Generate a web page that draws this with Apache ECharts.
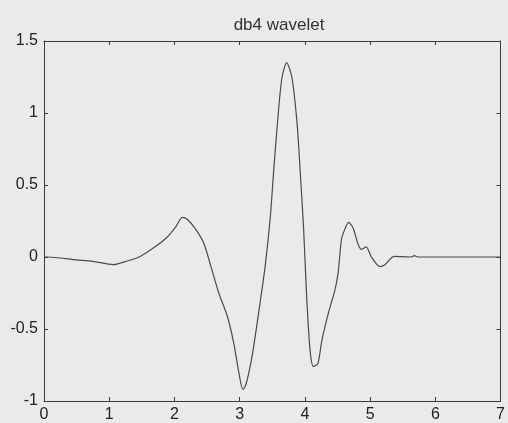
<!DOCTYPE html>
<html>
<head>
<meta charset="utf-8">
<title>db4 wavelet</title>
<script src="https://cdn.jsdelivr.net/npm/echarts@6/dist/echarts.min.js"></script>
<style>
  html, body { margin: 0; padding: 0; background: #eaeae8; }
  #chart { width: 508px; height: 423px; }
</style>
</head>
<body>
<div id="chart"></div>
<script>
// samples (t, psi(t))
var tValues = [0, 0.05, 0.5, 0.75, 1.06, 1.26, 1.46, 1.67, 1.87, 2.02, 2.12, 2.2, 2.33, 2.45, 2.56,
  2.68, 2.81, 2.91, 2.99, 3.05, 3.1, 3.19, 3.29, 3.39, 3.47, 3.53, 3.6, 3.65, 3.72, 3.8,
  3.88, 3.93, 3.98, 4.03, 4.08, 4.13, 4.2, 4.26, 4.36, 4.46, 4.51, 4.56, 4.61, 4.67, 4.74,
  4.82, 4.87, 4.94, 5.02, 5.15, 5.22, 5.37, 5.63, 5.68, 5.73, 7];
var psiValues = [0, 0, -0.02, -0.03, -0.053, -0.03, 0, 0.06, 0.13, 0.21, 0.275, 0.26, 0.19, 0.095, -0.067,
  -0.25, -0.41, -0.6, -0.81, -0.92, -0.88, -0.69, -0.39, -0.067, 0.28, 0.65, 1.04, 1.25, 1.35, 1.25,
  0.93, 0.58, 0.2, -0.3, -0.65, -0.76, -0.74, -0.58, -0.39, -0.23, -0.11, 0.12, 0.19, 0.24, 0.2,
  0.083, 0.053, 0.07, 0, -0.067, -0.056, 0.005, 0, 0.01, 0, 0];
var xTicks = [0, 7, 1];
var yTicks = [-1, 1.5, 0.5];

var seriesData = tValues.map(function (t, i) { return [t, psiValues[i]]; });

var axisCol = '#3a3a3a';
var font = 'Liberation Sans, Arial, sans-serif';

function boxAxis(type, pos, range, labels) {
  return {
    type: 'value', position: pos, min: range[0], max: range[1], interval: range[2],
    axisLine: { show: true, onZero: false, lineStyle: { color: axisCol, width: 1 } },
    axisTick: { show: true, inside: true, length: 4, lineStyle: { color: axisCol } },
    axisLabel: { show: labels, margin: 6, fontFamily: font, fontSize: 16, color: '#222' },
    splitLine: { show: false }
  };
}

var chart = echarts.init(document.getElementById('chart'));
var option = {
  backgroundColor: '#eaeae8',
  animation: false,
  title: {
    text: 'db4 wavelet',
    left: 274,
    textAlign: 'center',
    top: 12,
    textStyle: { fontFamily: font, fontSize: 17, fontWeight: 'normal', color: '#333' }
  },
  grid: { left: 44, right: 5, top: 41, bottom: 22 },
  xAxis: [
    boxAxis('x', 'bottom', xTicks, true),
    boxAxis('x', 'top', xTicks, false)
  ],
  yAxis: [
    boxAxis('y', 'left', yTicks, true),
    boxAxis('y', 'right', yTicks, false)
  ],
  series: [
    {
      name: 'db4',
      type: 'line',
      data: seriesData,
      showSymbol: false,
      smooth: 0.25,
      lineStyle: { color: '#4a4a4a', width: 1.2 }
    }
  ]
};
chart.setOption(option);
</script>
</body>
</html>
